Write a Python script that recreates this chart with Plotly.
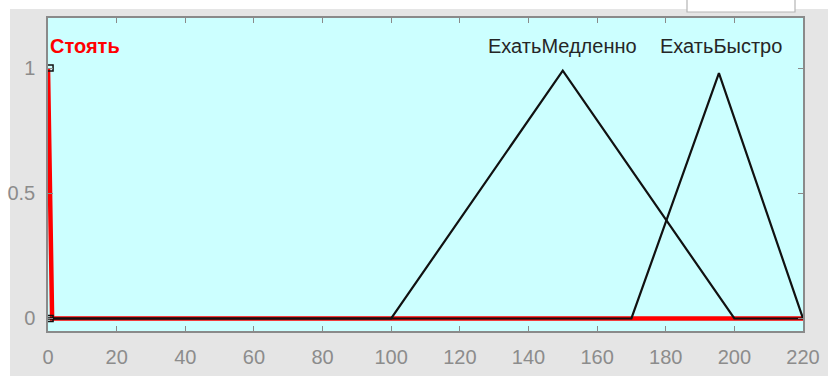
import plotly.graph_objects as go

# Data
x_range = [0, 220]
y_range = [-0.05, 1.2]
x_ticks = [0, 20, 40, 60, 80, 100, 120, 140, 160, 180, 200, 220]
y_ticks = [0, 0.5, 1]
y_tick_labels = ["0", "0.5", "1"]

stoyat_x = [0, 1.2, 220]
stoyat_y = [1, 0, 0]

medlenno_x = [0, 100, 150, 200, 220]
medlenno_y = [0, 0, 0.99, 0, 0]

bystro_x = [0, 170, 195.5, 220]
bystro_y = [0, 0, 0.98, 0]

handle_x = [0.6, 0.6]
handle_y = [1, 0]

labels = ["Стоять", "ЕхатьМедленно", "ЕхатьБыстро"]
label_x = [0, 150, 196]
label_y = [1.09, 1.09, 1.09]

FONT = "Liberation Sans, Arial, sans-serif"
GRAY_BG = "#e5e5e5"

fig = go.Figure()
fig.add_trace(go.Scatter(x=stoyat_x, y=stoyat_y, mode="lines",
                         line=dict(color="#ff0000", width=4.5), hoverinfo="skip"))
fig.add_trace(go.Scatter(x=medlenno_x, y=medlenno_y, mode="lines",
                         line=dict(color="#111111", width=2.2), hoverinfo="skip"))
fig.add_trace(go.Scatter(x=bystro_x, y=bystro_y, mode="lines",
                         line=dict(color="#111111", width=2.2), hoverinfo="skip"))
fig.add_trace(go.Scatter(x=handle_x, y=handle_y, mode="markers",
                         marker=dict(symbol="square-open", size=6, color="#111111",
                                     line=dict(width=1.5)),
                         hoverinfo="skip", cliponaxis=False))

colors = ["#ff0000", "#262626", "#262626"]
anchors = ["left", "center", "center"]
for i, t in enumerate(labels):
    txt = "<b>%s</b>" % t if i == 0 else t
    fig.add_annotation(x=label_x[i], y=label_y[i], text=txt, showarrow=False,
                       xanchor=anchors[i], yanchor="middle",
                       font=dict(family=FONT, size=20, color=colors[i]))

# Frame elements of the screenshot
shapes = [
    dict(type="rect", xref="paper", yref="paper", x0=-0.07, x1=1.04, y0=1.0288, y1=1.07,
         fillcolor="white", line=dict(width=0), layer="below"),
    dict(type="rect", xref="paper", yref="paper", x0=-0.07, x1=-0.0503, y0=-0.2, y1=1.07,
         fillcolor="white", line=dict(width=0), layer="below"),
    dict(type="rect", xref="paper", yref="paper", x0=(687 - 48) / 755, x1=(795 - 48) / 755,
         y0=(331 - 12) / 313, y1=1.07, fillcolor="white",
         line=dict(width=1.2, color="#b5b5b5"), layer="above"),
]

fig.add_annotation(xref="paper", yref="paper", x=(436 - 48) / 755, y=(331 - 372) / 313,
                   text="input variable \"Скорость\"", showarrow=False,
                   xanchor="center", yanchor="top",
                   font=dict(family=FONT, size=20, color="#262626"))

axis_common = dict(showgrid=False, zeroline=False, showline=True, linecolor="#8a8a8a",
                   linewidth=1.5, mirror="ticks", ticks="inside", ticklen=5,
                   tickcolor="#8a8a8a", tickwidth=1,
                   tickfont=dict(family=FONT, size=20, color="#8c8c8c"))

fig.update_layout(
    width=828, height=376,
    margin=dict(l=48, r=25, t=18, b=45, autoexpand=False),
    paper_bgcolor=GRAY_BG, plot_bgcolor="#ccffff",
    showlegend=False,
    shapes=shapes,
    xaxis=dict(range=x_range, tickvals=x_ticks, ticklabelstandoff=7, automargin=False,
               **axis_common),
    yaxis=dict(range=y_range, tickvals=y_ticks, ticktext=y_tick_labels,
               ticklabelstandoff=7, automargin=False, **axis_common),
)

fig.write_html(
    "out.html",
    config={"displayModeBar": False},
    post_script="document.body.style.margin='0';document.body.style.overflow='hidden';",
)
